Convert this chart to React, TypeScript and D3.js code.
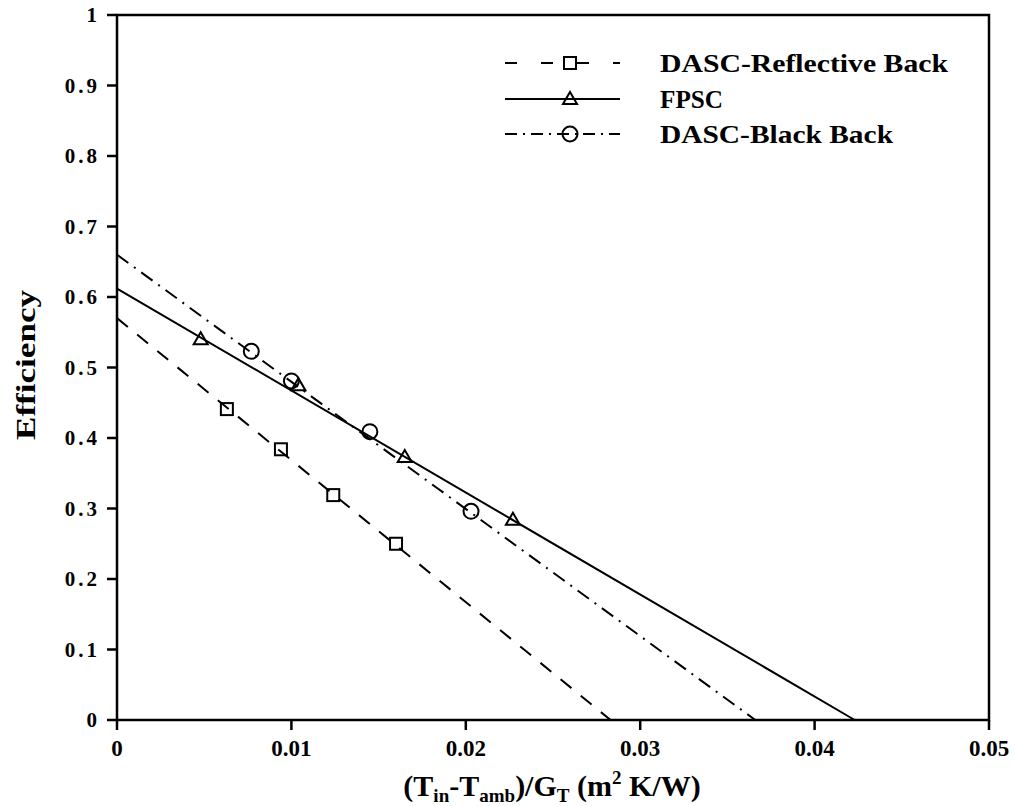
import React from "react";
import * as d3 from "d3";

// Data
const xTicks = [0, 0.01, 0.02, 0.03, 0.04, 0.05];
const yTicks = [0, 0.1, 0.2, 0.3, 0.4, 0.5, 0.6, 0.7, 0.8, 0.9, 1];

// fitted lines: [x, y] endpoints
const reflLine: [number, number][] = [[0, 0.57], [0.0283, 0]];
const fpscLine: [number, number][] = [[0, 0.612], [0.0423, 0]];
const blackLine: [number, number][] = [[0, 0.66], [0.0366, 0]];

// markers
const reflX = [0.0063, 0.0094, 0.0124, 0.016];
const reflY = [0.441, 0.384, 0.319, 0.25];
const fpscX = [0.0048, 0.0104, 0.0165, 0.0227];
const fpscY = [0.54, 0.475, 0.373, 0.284];
const blackX = [0.0077, 0.01, 0.0145, 0.0203];
const blackY = [0.523, 0.481, 0.409, 0.296];

const legendNames = ["DASC-Reflective Back", "FPSC", "DASC-Black Back"];

const W = 1015;
const H = 806;
const M = { left: 117, right: 989, top: 15, bottom: 720 };

export default function App() {
  const x = d3.scaleLinear().domain([0, 0.05]).range([M.left, M.right]);
  const y = d3.scaleLinear().domain([0, 1]).range([M.bottom, M.top]);
  const line = d3
    .line<[number, number]>()
    .x((d) => x(d[0]))
    .y((d) => y(d[1]));

  const font = "'Liberation Serif', 'Times New Roman', serif";
  const sw = 2;

  const square = (cx: number, cy: number, k: string) => (
    <rect key={k} x={cx - 6} y={cy - 6} width={12} height={12} fill="none" stroke="#000" strokeWidth={sw} />
  );
  const tri = (cx: number, cy: number, k: string) => (
    <path
      key={k}
      d={`M${cx},${cy - 7} L${cx + 7},${cy + 5} L${cx - 7},${cy + 5} Z`}
      fill="none"
      stroke="#000"
      strokeWidth={sw}
    />
  );
  const circ = (cx: number, cy: number, k: string) => (
    <circle key={k} cx={cx} cy={cy} r={7.5} fill="none" stroke="#000" strokeWidth={sw} />
  );

  const dashRefl = "14,12";
  const dashBlack = "14,7,2,7";

  const legendY = [63, 99, 134];
  const legendLen = [288, 63, 233];
  const legendStyles = [
    { dash: "12,24", marker: square },
    { dash: undefined, marker: tri },
    { dash: "12,6,2,6", marker: circ },
  ];

  return (
    <svg width={W} height={H} style={{ display: "block", position: "absolute", left: 0, top: 0, background: "#fff" }}>
      <rect x={0} y={0} width={W} height={H} fill="#fff" />
      {/* lines */}
      <path d={line(reflLine) || ""} fill="none" stroke="#000" strokeWidth={sw} strokeDasharray={dashRefl} />
      <path d={line(fpscLine) || ""} fill="none" stroke="#000" strokeWidth={sw} />
      <path d={line(blackLine) || ""} fill="none" stroke="#000" strokeWidth={sw} strokeDasharray={dashBlack} />
      {/* markers */}
      {reflX.map((v, i) => square(x(v), y(reflY[i]), "s" + i))}
      {fpscX.map((v, i) => tri(x(v), y(fpscY[i]), "t" + i))}
      {blackX.map((v, i) => circ(x(v), y(blackY[i]), "c" + i))}

      {/* frame */}
      <rect
        x={M.left}
        y={M.top}
        width={M.right - M.left}
        height={M.bottom - M.top}
        fill="none"
        stroke="#000"
        strokeWidth={2.5}
      />
      {/* x ticks */}
      {xTicks.map((t, i) => (
        <g key={"xt" + i}>
          <line x1={x(t)} x2={x(t)} y1={M.bottom} y2={M.bottom + 10} stroke="#000" strokeWidth={2.5} />
          <text
            x={x(t)}
            y={M.bottom + 36}
            textAnchor="middle"
            fontFamily={font}
            fontWeight="bold"
            fontSize={23}
          >
            {t === 0 ? "0" : String(t)}
          </text>
        </g>
      ))}
      {/* y ticks */}
      {yTicks.map((t, i) => (
        <g key={"yt" + i}>
          <line x1={M.left - 10} x2={M.left} y1={y(t)} y2={y(t)} stroke="#000" strokeWidth={2.5} />
          <text
            x={M.left - 17}
            y={y(t) + 7}
            textAnchor="end"
            fontFamily={font}
            fontWeight="bold"
            fontSize={21}
            letterSpacing={3}
          >
            {t === 0 || t === 1 ? String(t) : t.toFixed(1)}
          </text>
        </g>
      ))}
      {/* axis titles */}
      <text
        transform={`translate(35,365) rotate(-90)`}
        textAnchor="middle"
        fontFamily={font}
        fontWeight="bold"
        fontSize={28}
        textLength={150}
        lengthAdjust="spacingAndGlyphs"
      >
        Efficiency
      </text>
      <text x={552} y={796} textAnchor="middle" fontFamily={font} fontWeight="bold" fontSize={30}>
        (T
        <tspan fontSize={19} dy={6}>in</tspan>
        <tspan dy={-6}>-T</tspan>
        <tspan fontSize={19} dy={6}>amb</tspan>
        <tspan dy={-6}>)/G</tspan>
        <tspan fontSize={19} dy={6}>T</tspan>
        <tspan dy={-6}> (m</tspan>
        <tspan fontSize={19} dy={-12}>2</tspan>
        <tspan dy={12}> K/W)</tspan>
      </text>

      {/* legend */}
      {legendNames.map((n, i) => (
        <g key={"lg" + i}>
          <line
            x1={505}
            x2={620}
            y1={legendY[i]}
            y2={legendY[i]}
            stroke="#000"
            strokeWidth={sw}
            strokeDasharray={legendStyles[i].dash}
          />
          {legendStyles[i].marker(570, legendY[i], "lm" + i)}
          <text
            x={660}
            y={legendY[i] + 9}
            fontFamily={font}
            fontWeight="bold"
            fontSize={26}
            textLength={legendLen[i]}
            lengthAdjust="spacingAndGlyphs"
          >
            {n}
          </text>
        </g>
      ))}
    </svg>
  );
}
